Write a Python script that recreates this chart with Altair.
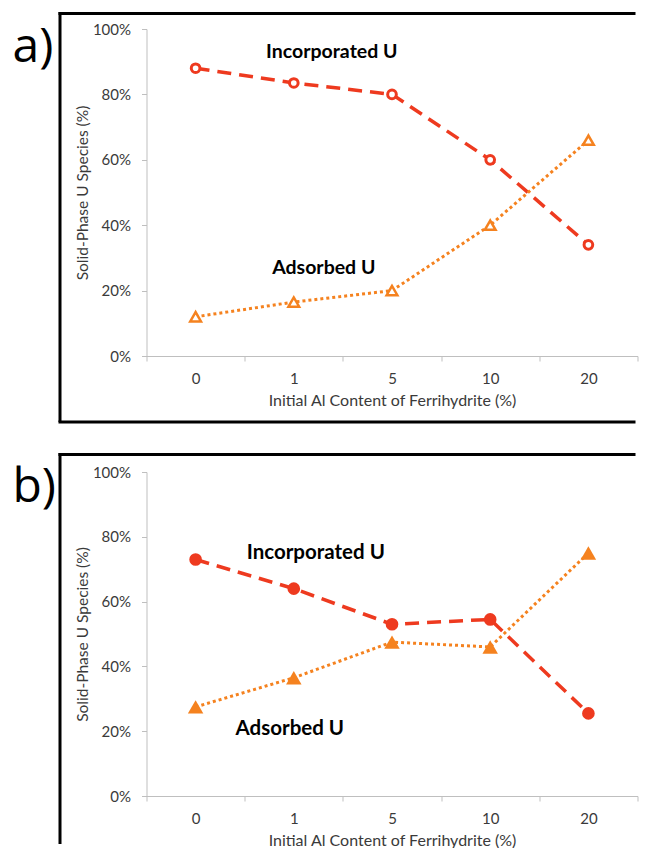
import altair as alt
import pandas as pd

# ---- data ----
categories = ["0", "1", "5", "10", "20"]

a_incorporated = [88, 83.5, 80, 60, 34]
a_adsorbed = [12, 16.5, 20, 40, 66]

b_incorporated = [73, 64, 53, 54.5, 25.5]
b_adsorbed = [27.5, 36.5, 47.5, 46, 75]

y_ticks = [0, 20, 40, 60, 80, 100]

# annotation anchors (category, value)
a_inc_label = ("1", 93)
a_ads_label = ("1", 27)
b_inc_label = ("1", 75)
b_ads_label = ("1", 20.7)

RED = "#ee3a1f"
ORANGE = "#f5821f"
AX_GRAY = "#bfbfbf"
TXT_GRAY = "#3a3a3a"
FONT = "Lato"

W = 491


def panel(tag, tag_y, inc, ads, h, filled, inc_lab, ads_lab, inc_dx, ads_dx, lab_size,
          frame_top, frame_bottom, has_bottom, xtitle_y):
    df_inc = pd.DataFrame({"cat": categories, "v": inc})
    df_ads = pd.DataFrame({"cat": categories, "v": ads})
    dummy = pd.DataFrame({"d": [0]})

    x = alt.X(
        "cat:N",
        sort=categories,
        scale=alt.Scale(type="band", domain=categories, paddingInner=0, paddingOuter=0),
        axis=alt.Axis(
            title="Initial Al Content of Ferrihydrite (%)",
            labelAngle=0,
            tickBand="extent",
            tickSize=5,
            domainColor=AX_GRAY,
            tickColor=AX_GRAY,
            labelFont=FONT,
            labelFontSize=15,
            labelColor=TXT_GRAY,
            labelPadding=10,
            titleFont=FONT,
            titleFontSize=16,
            titleFontWeight="normal",
            titleColor=TXT_GRAY,
            titleY=xtitle_y,
            titleBaseline="middle",
        ),
    )
    y = alt.Y(
        "v:Q",
        scale=alt.Scale(domain=[0, 100]),
        axis=alt.Axis(
            values=y_ticks,
            labelExpr="datum.value + '%'",
            grid=False,
            tickSize=5,
            domainColor=AX_GRAY,
            tickColor=AX_GRAY,
            labelFont=FONT,
            labelFontSize=15,
            labelColor=TXT_GRAY,
            labelPadding=11,
            title="Solid-Phase U Species (%)",
            titleFont=FONT,
            titleFontSize=15.5,
            titleFontWeight="normal",
            titleColor=TXT_GRAY,
            titleX=-64,
            titleY=h / 2,
            titleBaseline="middle",
        ),
    )

    layers = []
    # frame
    layers.append(
        alt.Chart(dummy).mark_rule(color="black", strokeWidth=3).encode(
            x=alt.value(-88), x2=alt.value(W - 2), y=alt.value(frame_top)
        )
    )
    layers.append(
        alt.Chart(dummy).mark_rule(color="black", strokeWidth=3).encode(
            x=alt.value(-86.5), y=alt.value(frame_top - 1.5), y2=alt.value(frame_bottom)
        )
    )
    if has_bottom:
        layers.append(
            alt.Chart(dummy).mark_rule(color="black", strokeWidth=3).encode(
                x=alt.value(-88), x2=alt.value(W - 2), y=alt.value(frame_bottom)
            )
        )
    layers.append(
        alt.Chart(dummy).mark_text(
            text=tag, font="Open Sans", fontSize=48, align="left",
            baseline="top", color="black"
        ).encode(x=alt.value(-134), y=alt.value(tag_y))
    )

    inc_line = alt.Chart(df_inc).mark_line(
        color=RED, strokeWidth=3.5, strokeDash=[14, 8]
    ).encode(x=x, y=y)
    ads_line = alt.Chart(df_ads).mark_line(
        color=ORANGE, strokeWidth=3, strokeDash=[3, 3]
    ).encode(x=x, y=y)

    if filled:
        inc_pts = alt.Chart(df_inc).mark_point(
            shape="circle", filled=True, color=RED, size=160, opacity=1
        ).encode(x=x, y=y)
        ads_pts = alt.Chart(df_ads).mark_point(
            shape="triangle-up", filled=True, color=ORANGE, size=240, opacity=1
        ).encode(x=x, y=y)
    else:
        inc_pts = alt.Chart(df_inc).mark_point(
            shape="circle", filled=True, fill="white", stroke=RED,
            strokeWidth=3, size=75, opacity=1
        ).encode(x=x, y=y)
        ads_pts = alt.Chart(df_ads).mark_point(
            shape="triangle-up", filled=True, fill="white", stroke=ORANGE,
            strokeWidth=2.5, size=115, opacity=1
        ).encode(x=x, y=y)

    lab_inc_df = pd.DataFrame({"cat": [inc_lab[0]], "v": [inc_lab[1]]})
    lab_ads_df = pd.DataFrame({"cat": [ads_lab[0]], "v": [ads_lab[1]]})
    t_inc = alt.Chart(lab_inc_df).mark_text(
        text="Incorporated U", font=FONT, fontWeight="bold", fontSize=lab_size,
        color="black", dx=inc_dx, baseline="middle"
    ).encode(x=x, y=y)
    t_ads = alt.Chart(lab_ads_df).mark_text(
        text="Adsorbed U", font=FONT, fontWeight="bold", fontSize=lab_size,
        color="black", dx=ads_dx, baseline="middle"
    ).encode(x=x, y=y)

    layers += [inc_line, ads_line, inc_pts, ads_pts, t_inc, t_ads]
    return alt.layer(*layers).properties(width=W, height=h)


pa = panel("a)", -5, a_incorporated, a_adsorbed, 327, False, a_inc_label, a_ads_label,
           38, 30, 19.5, -15.5, 393, True, 44)
pb = panel("b)", -8, b_incorporated, b_adsorbed, 324, True, b_inc_label, b_ads_label,
           22, -4, 20.5, -17.5, 372, False, 44)

chart = (
    alt.vconcat(pa, pb, spacing=27)
    .properties(padding={"left": 4.5, "top": 2, "right": 0, "bottom": 0})
    .configure_view(stroke=None)
)

chart.save("out.html", embed_options={"renderer": "svg", "actions": False})
